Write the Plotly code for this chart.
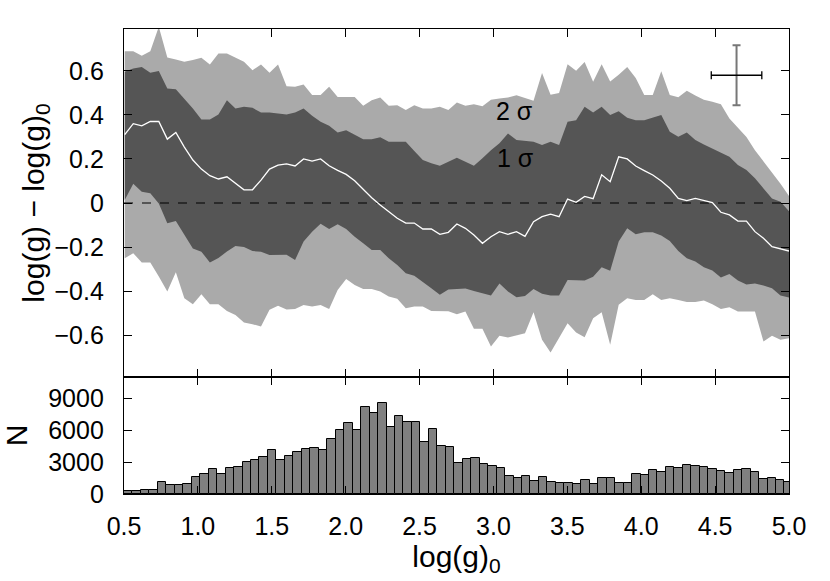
import plotly.graph_objects as go

# residual bands vs log(g)_0, one point per bin
band_start = 0.505
band_step = 0.05763

median = [
    0.31, 0.36, 0.35, 0.37, 0.37, 0.29, 0.32, 0.254, 0.195, 0.154,
    0.124, 0.109, 0.119, 0.089, 0.06, 0.06, 0.104, 0.154, 0.172, 0.178,
    0.168, 0.200, 0.190, 0.200, 0.169, 0.148, 0.130, 0.101, 0.063, 0.024,
    -0.009, -0.039, -0.069, -0.091, -0.091, -0.118, -0.118, -0.142, -0.133, -0.095,
    -0.115, -0.145, -0.183, -0.153, -0.130, -0.142, -0.130, -0.151, -0.085, -0.062,
    -0.051, -0.062, 0.018, 0.003, 0.030, 0.020, 0.128, 0.097, 0.210, 0.200,
    0.168, 0.147, 0.127, 0.100, 0.067, 0.021, 0.011, 0.021, 0.011, 0.002,
    -0.042, -0.054, -0.082, -0.082, -0.130, -0.160, -0.198, -0.209, -0.218,
]
hi2 = [
    0.689, 0.689, 0.668, 0.689, 0.80, 0.661, 0.652, 0.641, 0.649, 0.659,
    0.629, 0.679, 0.679, 0.661, 0.641, 0.603, 0.629, 0.591, 0.629, 0.530,
    0.528, 0.538, 0.490, 0.490, 0.528, 0.481, 0.481, 0.481, 0.441, 0.467,
    0.479, 0.441, 0.444, 0.422, 0.444, 0.429, 0.429, 0.437, 0.422, 0.456,
    0.441, 0.448, 0.439, 0.469, 0.475, 0.479, 0.489, 0.477, 0.464, 0.590,
    0.492, 0.499, 0.630, 0.600, 0.640, 0.550, 0.630, 0.552, 0.582, 0.618,
    0.568, 0.490, 0.490, 0.598, 0.490, 0.480, 0.510, 0.488, 0.469, 0.460,
    0.448, 0.384, 0.342, 0.30, 0.24, 0.19, 0.135, 0.087, 0.032,
]
hi1 = [
    0.596, 0.611, 0.618, 0.591, 0.599, 0.520, 0.517, 0.475, 0.429, 0.379,
    0.379, 0.402, 0.467, 0.429, 0.437, 0.432, 0.411, 0.411, 0.407, 0.402,
    0.411, 0.429, 0.396, 0.369, 0.351, 0.320, 0.330, 0.308, 0.289, 0.289,
    0.298, 0.278, 0.278, 0.278, 0.236, 0.195, 0.180, 0.169, 0.187, 0.205,
    0.187, 0.169, 0.203, 0.240, 0.271, 0.316, 0.286, 0.281, 0.278, 0.263,
    0.278, 0.263, 0.369, 0.376, 0.437, 0.411, 0.437, 0.399, 0.417, 0.387,
    0.376, 0.376, 0.387, 0.399, 0.324, 0.301, 0.320, 0.286, 0.266, 0.248,
    0.230, 0.210, 0.172, 0.150, 0.112, 0.067, 0.021, 0.006, -0.037,
]
lo1 = [
    0.014, 0.087, 0.051, 0.044, -0.002, -0.092, -0.082, -0.145, -0.206, -0.221,
    -0.270, -0.250, -0.220, -0.195, -0.200, -0.218, -0.221, -0.236, -0.234, -0.235,
    -0.259, -0.175, -0.130, -0.094, -0.118, -0.097, -0.118, -0.153, -0.183, -0.213,
    -0.213, -0.251, -0.281, -0.319, -0.330, -0.357, -0.387, -0.417, -0.393, -0.390,
    -0.388, -0.400, -0.410, -0.420, -0.366, -0.402, -0.428, -0.422, -0.390, -0.412,
    -0.420, -0.420, -0.350, -0.352, -0.352, -0.335, -0.292, -0.308, -0.175, -0.115,
    -0.142, -0.133, -0.133, -0.148, -0.172, -0.218, -0.251, -0.266, -0.292, -0.306,
    -0.338, -0.322, -0.352, -0.370, -0.366, -0.375, -0.387, -0.420, -0.429,
]
lo2 = [
    -0.251, -0.228, -0.270, -0.270, -0.334, -0.402, -0.314, -0.432, -0.460, -0.414,
    -0.460, -0.460, -0.490, -0.508, -0.543, -0.550, -0.561, -0.485, -0.466, -0.483,
    -0.481, -0.463, -0.470, -0.463, -0.481, -0.395, -0.345, -0.372, -0.390, -0.390,
    -0.402, -0.425, -0.435, -0.478, -0.470, -0.470, -0.490, -0.490, -0.492, -0.505,
    -0.493, -0.571, -0.571, -0.652, -0.603, -0.611, -0.602, -0.591, -0.496, -0.621,
    -0.679, -0.614, -0.546, -0.588, -0.609, -0.523, -0.496, -0.644, -0.462, -0.432,
    -0.440, -0.440, -0.414, -0.440, -0.432, -0.440, -0.450, -0.450, -0.443, -0.460,
    -0.481, -0.473, -0.493, -0.493, -0.493, -0.629, -0.603, -0.621, -0.614,
]

# histogram of log(g)_0
bin_start = 0.5
bin_width = 0.0573
counts = [
    310, 280, 350, 400, 1100, 820, 820, 910, 1570, 1860,
    2360, 1890, 2450, 2510, 2980, 3240, 3460, 4150, 3170, 3610,
    3990, 4210, 4300, 4120, 5160, 6040, 6660, 6000, 8140, 7610,
    8580, 6290, 7320, 6730, 6730, 4870, 6100, 4500, 4400, 2890,
    3270, 3360, 2860, 2670, 2420, 1670, 1540, 1670, 1230, 1570,
    1100, 1010, 1010, 910, 1350, 910, 1480, 1480, 1010, 1070,
    1890, 1760, 2230, 2100, 2580, 2450, 2700, 2610, 2510, 2360,
    2140, 1980, 2260, 2360, 2040, 1410, 1510, 1320, 1160,
]

# typical error bar
err_x, err_y = 4.645, 0.58
err_dx, err_dy = 0.171, 0.136

x_ticks = [0.5, 1.0, 1.5, 2.0, 2.5, 3.0, 3.5, 4.0, 4.5, 5.0]
y_ticks = [-0.6, -0.4, -0.2, 0, 0.2, 0.4, 0.6]
y_ticktext = ['\u22120.6', '\u22120.4', '\u22120.2', '0', '0.2', '0.4', '0.6']
n_ticks = [0, 3000, 6000, 9000]

LIGHT = '#aaaaaa'
DARK = '#555555'
FONT = 'Liberation Sans, Arial, Helvetica, sans-serif'

fig = go.Figure()

band = dict(x0=band_start, dx=band_step, mode='lines', line=dict(width=0),
            hoverinfo='skip', showlegend=False, xaxis='x', yaxis='y')
fig.add_trace(go.Scatter(y=hi2, **band))
fig.add_trace(go.Scatter(y=lo2, fill='tonexty', fillcolor=LIGHT, **band))
fig.add_trace(go.Scatter(y=hi1, **band))
fig.add_trace(go.Scatter(y=lo1, fill='tonexty', fillcolor=DARK, **band))

fig.add_trace(go.Scatter(
    x=[0.5, 5.0], y=[0, 0], mode='lines',
    line=dict(color='black', width=1, dash='dash'),
    showlegend=False, xaxis='x', yaxis='y'))
fig.add_trace(go.Scatter(
    y=median, x0=band_start, dx=band_step, mode='lines',
    line=dict(color='white', width=1.3),
    showlegend=False, xaxis='x', yaxis='y'))

fig.add_trace(go.Scatter(
    x=[err_x], y=[err_y], mode='markers',
    marker=dict(size=1, color='rgba(0,0,0,0)'),
    error_x=dict(type='data', array=[err_dx], color='black', thickness=1.3, width=4),
    error_y=dict(type='data', array=[err_dy], color='#777777', thickness=2, width=4),
    showlegend=False, xaxis='x', yaxis='y'))

fig.add_trace(go.Bar(
    y=counts, x0=bin_start + bin_width / 2, dx=bin_width, width=bin_width,
    marker=dict(color='#808080', line=dict(color='black', width=1)),
    showlegend=False, xaxis='x2', yaxis='y2'))

axis_common = dict(
    showline=True, linecolor='black', linewidth=1.3, mirror='ticks',
    ticks='inside', ticklen=8, tickcolor='black', tickwidth=1.3,
    showgrid=False, zeroline=False,
)
split = 0.2516

fig.update_layout(
    width=830, height=581,
    margin=dict(l=124, r=41, t=29, b=87),
    paper_bgcolor='white', plot_bgcolor='white',
    font=dict(family=FONT, size=25, color='black'),
    bargap=0,
    xaxis=dict(domain=[0, 1], anchor='y', range=[0.5, 5.0], tickvals=x_ticks,
               showticklabels=False, **axis_common),
    yaxis=dict(domain=[split, 1], anchor='x', range=[-0.79, 0.79],
               tickvals=y_ticks, ticktext=y_ticktext, ticklabelstandoff=14,
               title=dict(text='log(g) \u2212 log(g)<sub>0</sub>', standoff=0),
               **axis_common),
    xaxis2=dict(domain=[0, 1], anchor='y2', range=[0.5, 5.0], tickvals=x_ticks,
                tickformat='.1f', ticklabelstandoff=10,
                title=dict(text='log(g)<sub>0</sub>', standoff=4),
                **axis_common),
    yaxis2=dict(domain=[0, split], anchor='x2', range=[0, 11000],
                tickvals=n_ticks, ticklabelstandoff=14,
                title=dict(text='N', standoff=16),
                **axis_common),
    annotations=[
        dict(x=3.145, y=0.417, xref='x', yref='y', text='2 \u03c3',
             showarrow=False, font=dict(size=25)),
        dict(x=3.152, y=0.204, xref='x', yref='y', text='1 \u03c3',
             showarrow=False, font=dict(size=25)),
    ],
)

fig.write_html("out.html", config={'displayModeBar': False},
               post_script="document.body.style.margin = '0px';")
